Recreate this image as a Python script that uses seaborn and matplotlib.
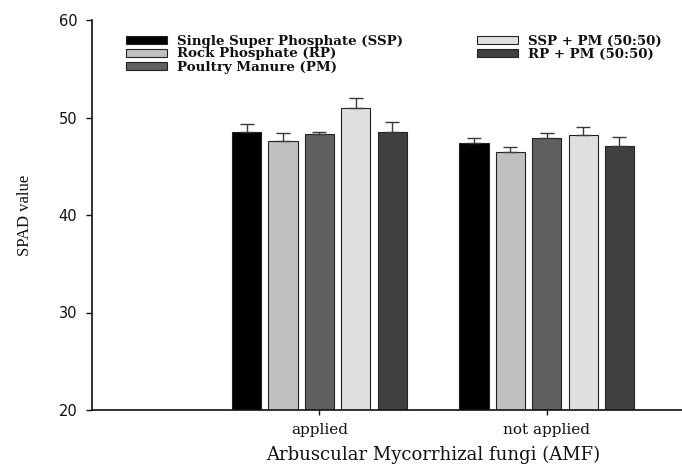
import matplotlib
matplotlib.use("Agg")
import matplotlib.pyplot as plt
import seaborn as sns
import pandas as pd

# ---- data ----
amf = ["applied", "not applied"]
fertilizers = ["Single Super Phosphate (SSP)", "Rock Phosphate (RP)",
               "Poultry Manure (PM)", "SSP + PM (50:50)", "RP + PM (50:50)"]
spad_applied = [48.5, 47.6, 48.3, 51.0, 48.5]
spad_not_applied = [47.4, 46.5, 47.9, 48.2, 47.1]
err_applied = [0.8, 0.8, 0.2, 1.0, 1.0]
err_not_applied = [0.5, 0.5, 0.5, 0.8, 0.95]
colors = ["#000000", "#bfbfbf", "#5f5f5f", "#dfdfdf", "#404040"]
y_ticks = [20, 30, 40, 50, 60]

rows = []
for i, f in enumerate(fertilizers):
    rows.append({"AMF": amf[0], "Fertilizer": f, "SPAD": spad_applied[i], "err": err_applied[i]})
    rows.append({"AMF": amf[1], "Fertilizer": f, "SPAD": spad_not_applied[i], "err": err_not_applied[i]})
df = pd.DataFrame(rows)

sns.set_theme(style="ticks")
plt.rcParams["font.family"] = ["DejaVu Sans"]

fig = plt.figure(figsize=(6.82, 4.76), dpi=100)
ax = fig.add_axes([92 / 682, 1 - 410 / 476, 590 / 682, 390 / 476])

sns.barplot(data=df, x="AMF", y="SPAD", hue="Fertilizer", order=amf,
            hue_order=fertilizers, palette=colors, width=0.8, gap=0.2,
            edgecolor="#222222", linewidth=0.8, errorbar=None, ax=ax, legend=True)

# error bars (upper only)
bar_containers = list(ax.containers)[:len(fertilizers)]
for k, cont in enumerate(bar_containers):
    f = fertilizers[k]
    for patch, a in zip(cont.patches, amf):
        e = df[(df.Fertilizer == f) & (df.AMF == a)]["err"].iloc[0]
        xc = patch.get_x() + patch.get_width() / 2
        ax.errorbar(xc, patch.get_height(), yerr=[[0], [e]], fmt="none",
                    ecolor="#3a3a3a", elinewidth=1.0, capsize=5, capthick=1.0, zorder=1)

ax.set_ylim(20, 60)
ax.set_yticks(y_ticks)
ax.set_xlim(-1.0, 1.595)
sns.despine(ax=ax)
for s in ["left", "bottom"]:
    ax.spines[s].set_linewidth(1.2)
    ax.spines[s].set_color("#111111")

ax.tick_params(axis="y", direction="out", length=4.5, width=1.0, pad=6,
               labelsize=10.5, colors="#111111")
ax.tick_params(axis="x", direction="out", length=3.5, width=1.0, pad=6,
               labelsize=11, colors="#111111")
for lbl in ax.get_xticklabels():
    lbl.set_fontfamily("DejaVu Serif")

ax.set_xlabel("Arbuscular Mycorrhizal fungi (AMF)", family="DejaVu Serif",
              fontsize=13, va="center", color="#111111")
ax.xaxis.set_label_coords(0.578, -0.115)
ax.set_ylabel("SPAD value", family="Liberation Serif", fontsize=12,
              va="center", color="#111111")
ax.yaxis.set_label_coords(-0.1136, 0.5)

handles, labels = ax.get_legend_handles_labels()
ax.get_legend().remove()
leg_kw = dict(loc="upper left", bbox_transform=fig.transFigure, frameon=False,
              borderpad=0, borderaxespad=0, handlelength=3.1, handleheight=0.5,
              handletextpad=0.75, labelspacing=0.0,
              prop={"family": "DejaVu Serif", "size": 9.6, "weight": "bold"})
leg1 = ax.legend(handles[:3], labels[:3], bbox_to_anchor=(126 / 682, 1 - 34.5 / 476), **leg_kw)
ax.add_artist(leg1)
leg2 = ax.legend(handles[3:], labels[3:], bbox_to_anchor=(477 / 682, 1 - 34.5 / 476), **leg_kw)
for leg in (leg1, leg2):
    for t in leg.get_texts():
        t.set_color("#111111")

fig.savefig("out.png", dpi=100)
